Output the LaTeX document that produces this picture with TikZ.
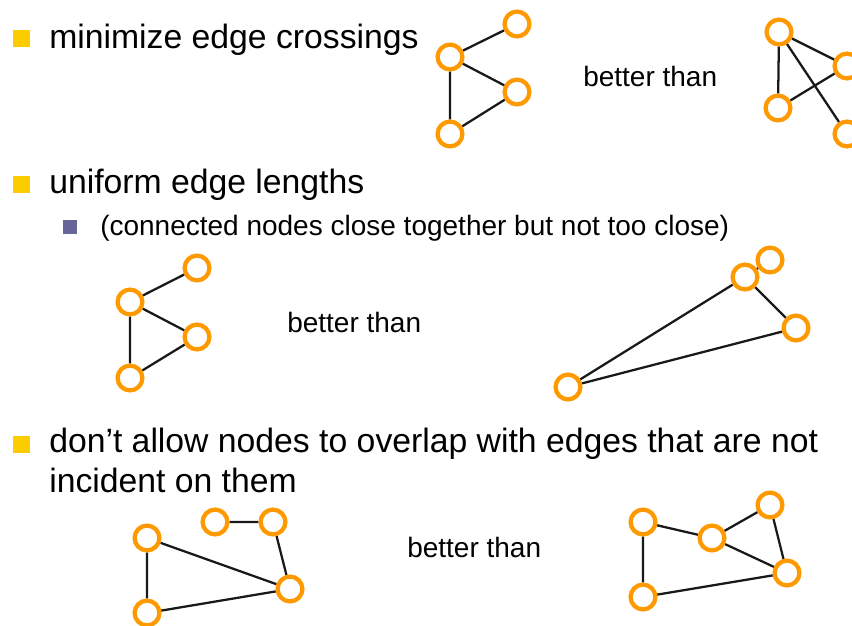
\documentclass[tikz,border=0pt]{standalone}
\usepackage{fontspec}
\setmainfont{Liberation Sans}
\definecolor{ringorange}{HTML}{FF9900}
\definecolor{bulletyellow}{HTML}{FFCC00}
\definecolor{bulletpurple}{HTML}{666699}
\tikzset{
  vtx/.style={circle, draw=ringorange, line width=3.2pt, fill=white,
              minimum size=18.6pt, inner sep=0pt},
  edge/.style={draw=black!90, line width=1.7pt},
  headtext/.style={anchor=base west, inner sep=0pt, font=\fontsize{25.3}{30}\selectfont},
  subtext/.style={anchor=base west, inner sep=0pt, font=\fontsize{21}{25}\selectfont},
  bullet/.style={fill=bulletyellow, draw=none, minimum size=12.75pt, inner sep=0pt},
  subbullet/.style={fill=bulletpurple, draw=none, minimum size=10pt, inner sep=0pt},
}
\begin{document}
\begin{tikzpicture}[x=0.75pt, y=-0.75pt]
\useasboundingbox (0,0) rectangle (852,625);

% ---- bullets and text ----
\node[bullet] (b1) at (21,38) {};
\node[headtext] (t1) at (49,48) {minimize edge crossings};
\node[bullet] (b2) at (21,184) {};
\node[headtext] (t2) at (49,193) {uniform edge lengths};
\node[subbullet] (b2a) at (70,227) {};
\node[subtext] (t2a) at (100,235) {(connected nodes close together but not too close)};
\node[bullet] (b3) at (21,444) {};
\node[headtext] (t3) at (49,452) {don’t allow nodes to overlap with edges that are not};
\node[headtext] (t3b) at (49,492) {incident on them};

\node[subtext] (bt1) at (583,86) {better than};
\node[subtext] (bt2) at (287,332) {better than};
\node[subtext] (bt3) at (407,557) {better than};

% ---- crossings: good layout ----
\node[vtx] (a1) at (450,57) {};
\node[vtx] (a2) at (517,24) {};
\node[vtx] (a3) at (517,92) {};
\node[vtx] (a4) at (450,134) {};
\path[edge] (a1) -- (a2) (a1) -- (a3) (a1) -- (a4) (a4) -- (a3);

% ---- crossings: poor layout ----
\node[vtx] (c1) at (779,32) {};
\node[vtx] (c2) at (847,66) {};
\node[vtx] (c3) at (778,108) {};
\node[vtx] (c4) at (847,134) {};
\path[edge] (c1) -- (c3) (c1) -- (c2) (c1) -- (c4) (c3) -- (c2);

% ---- edge lengths: good layout ----
\node[vtx] (d1) at (130,302) {};
\node[vtx] (d2) at (197,268) {};
\node[vtx] (d3) at (197,337) {};
\node[vtx] (d4) at (130,378) {};
\path[edge] (d1) -- (d2) (d1) -- (d3) (d1) -- (d4) (d4) -- (d3);

% ---- edge lengths: poor layout ----
\node[vtx] (e2) at (770,260) {};
\node[vtx] (e1) at (745,277) {};
\node[vtx] (e3) at (796,328) {};
\node[vtx] (e4) at (568,387) {};
\path[edge] (e1) -- (e2) (e1) -- (e3) (e1) -- (e4) (e4) -- (e3);

% ---- overlap: good layout ----
\node[vtx] (f1) at (147,538) {};
\node[vtx] (f2) at (215,522) {};
\node[vtx] (f3) at (273,522) {};
\node[vtx] (f4) at (290,589) {};
\node[vtx] (f5) at (147,613) {};
\path[edge] (f1) -- (f5) (f1) -- (f4) (f5) -- (f4) (f2) -- (f3) (f3) -- (f4);

% ---- overlap: poor layout ----
\node[vtx] (g1) at (643,522) {};
\node[vtx] (g2) at (712,538) {};
\node[vtx] (g3) at (770,505) {};
\node[vtx] (g4) at (787,573) {};
\node[vtx] (g5) at (643,597) {};
\path[edge] (g1) -- (g5) (g1) -- (g2) (g2) -- (g3) (g2) -- (g4) (g3) -- (g4) (g5) -- (g4);
\end{tikzpicture}
\end{document}
